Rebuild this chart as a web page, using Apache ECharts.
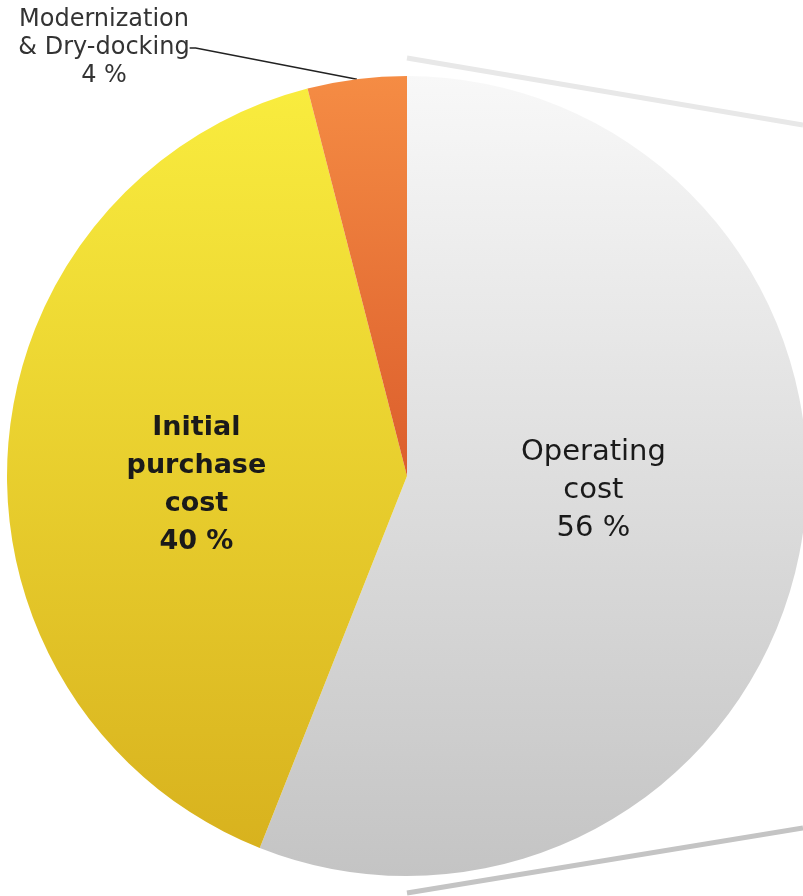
<!DOCTYPE html>
<html>
<head>
<meta charset="utf-8">
<script src="https://cdn.jsdelivr.net/npm/echarts@6/dist/echarts.min.js"></script>
<style>html,body{margin:0;padding:0;background:#fff;}#c{width:803px;height:896px;}</style>
</head>
<body>
<div id="c"></div>
<script>
const categories = ['Operating\ncost', 'Initial\npurchase\ncost', 'Modernization\n& Dry-docking'];
const values = [56, 40, 4];
const percentLabels = ['56 %', '40 %', '4 %'];

const grad = (a, b) => new echarts.graphic.LinearGradient(0, 0, 0, 1, [{offset: 0, color: a}, {offset: 1, color: b}]);
const fills = [grad('#f8f8f8', '#c4c4c4'), grad('#f9ec3e', '#d8b21e'), grad('#f58c44', '#dc5e2c')];

const chart = echarts.init(document.getElementById('c'), null, {renderer: 'canvas'});
chart.setOption({
  backgroundColor: '#ffffff',
  animation: false,
  graphic: [
    {type: 'line', z: 0, shape: {x1: 407, y1: 58, x2: 803, y2: 125}, style: {stroke: '#e8e8e8', lineWidth: 5}},
    {type: 'line', z: 0, shape: {x1: 407, y1: 893, x2: 803, y2: 828}, style: {stroke: '#c4c4c4', lineWidth: 5}}
  ],
  series: [{
    type: 'pie',
    center: [407, 476],
    radius: 400,
    startAngle: 90,
    clockwise: true,
    z: 2,
    data: categories.map((c, i) => ({
      name: c,
      value: values[i],
      itemStyle: {color: fills[i]},
      label: i === 2 ? {
        show: true, position: 'outside',
        formatter: c + '\n' + percentLabels[i],
        fontFamily: 'DejaVu Sans', fontSize: 24, lineHeight: 28, color: '#333', align: 'center'
      } : {
        show: true, position: 'inside',
        formatter: c + '\n' + percentLabels[i],
        fontFamily: 'DejaVu Sans', fontSize: i === 1 ? 27 : 29, lineHeight: 38, color: '#1a1a1a',
        fontWeight: i === 1 ? 'bold' : 'normal', align: 'center'
      },
      labelLine: i === 2 ? {show: true, length: 10, length2: 6, lineStyle: {color: '#222', width: 1.5}} : {show: false}
    })),
    labelLayout: function (p) {
      if (p.dataIndex === 0) return {dx: -13, dy: -24};
      if (p.dataIndex === 1) return {dx: -8, dy: 22};
      return {x: 104, y: 48, align: 'center', verticalAlign: 'middle'};
    }
  }]
});
</script>
</body>
</html>
